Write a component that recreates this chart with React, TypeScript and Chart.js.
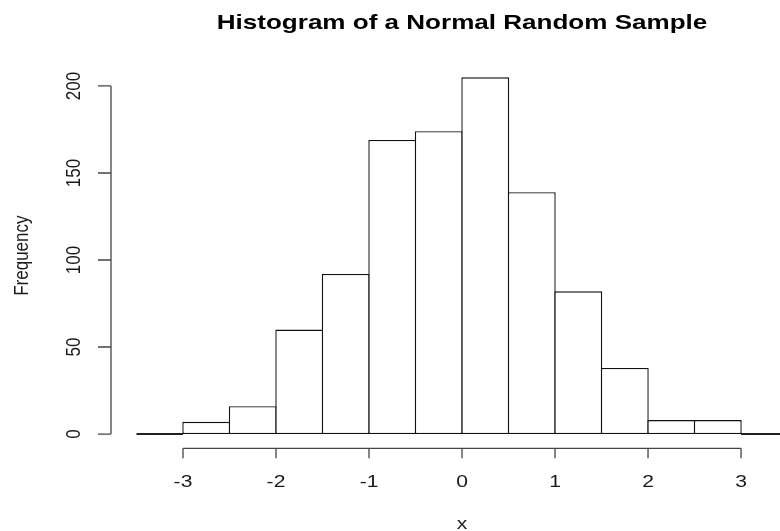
import React, { useEffect, useRef } from "react";
import { Chart, registerables } from "chart.js";

Chart.register(...registerables);

// ---- data ----
const binStarts = [-3, -2.5, -2, -1.5, -1, -0.5, 0, 0.5, 1, 1.5, 2, 2.5];
const binWidth = 0.5;
const counts = [7, 16, 60, 92, 169, 174, 205, 139, 82, 38, 8, 8];
const emptyBinStarts = [-3.5, 3];
const xTicks = [-3, -2, -1, 0, 1, 2, 3];
const yTicks = [0, 50, 100, 150, 200];
const titleText = "Histogram of a Normal Random Sample";
const xLabel = "x";
const yLabel = "Frequency";

const FONT = '"Liberation Sans", Arial, Helvetica, sans-serif';
const STRETCH = 1.24;

const rAxesPlugin = {
  id: "rAxes",
  afterDraw(chart: any) {
    const ctx: CanvasRenderingContext2D = chart.ctx;
    const xs = chart.scales.x;
    const ys = chart.scales.y;
    const ca = chart.chartArea;

    ctx.save();
    ctx.strokeStyle = "#444";
    ctx.lineWidth = 1.3;

    // y axis
    const ax = ca.left;
    ctx.beginPath();
    ctx.moveTo(ax, ys.getPixelForValue(yTicks[0]));
    ctx.lineTo(ax, ys.getPixelForValue(yTicks[yTicks.length - 1]));
    yTicks.forEach((v) => {
      const p = ys.getPixelForValue(v);
      ctx.moveTo(ax, p);
      ctx.lineTo(ax - 13, p);
    });
    ctx.stroke();

    // x axis
    const ay = ca.bottom;
    ctx.beginPath();
    ctx.moveTo(xs.getPixelForValue(xTicks[0]), ay);
    ctx.lineTo(xs.getPixelForValue(xTicks[xTicks.length - 1]), ay);
    xTicks.forEach((v) => {
      const p = xs.getPixelForValue(v);
      ctx.moveTo(p, ay);
      ctx.lineTo(p, ay + 10);
    });
    ctx.stroke();

    const text = (
      s: string,
      x: number,
      y: number,
      font: string,
      rotate: boolean
    ) => {
      ctx.save();
      ctx.translate(x, y);
      ctx.scale(STRETCH, 1);
      if (rotate) ctx.rotate(-Math.PI / 2);
      ctx.font = font;
      ctx.textAlign = "center";
      ctx.textBaseline = "alphabetic";
      ctx.fillText(s, 0, 0);
      ctx.restore();
    };

    ctx.fillStyle = "#1a1a1a";
    const regular = `17px ${FONT}`;
    yTicks.forEach((v) => {
      text(String(v), 80, ys.getPixelForValue(v), regular, true);
    });
    xTicks.forEach((v) => {
      text(String(v), xs.getPixelForValue(v), 487, regular, false);
    });
    const midX = xs.getPixelForValue(0);
    text(xLabel, midX, 529, regular, false);
    text(yLabel, 28, (ca.top + ca.bottom) / 2, regular, true);

    ctx.fillStyle = "#000";
    text(titleText, midX, 29, `bold 21px ${FONT}`, false);
    ctx.restore();
  },
};

export default function App() {
  const ref = useRef<HTMLCanvasElement | null>(null);

  useEffect(() => {
    if (!ref.current) return;
    const barData = binStarts.map((s, i) => ({ x: s + binWidth / 2, y: counts[i] }));
    const emptySets = emptyBinStarts.map((s) => ({
      type: "line" as const,
      data: [
        { x: s, y: 0 },
        { x: s + binWidth, y: 0 },
      ],
      borderColor: "#222",
      borderWidth: 2,
      pointRadius: 0,
      order: 2,
    }));
    const chart = new Chart(ref.current, {
      type: "bar",
      data: {
        datasets: [
          {
            type: "bar",
            data: barData as any,
            backgroundColor: "#ffffff",
            borderColor: "#111",
            borderWidth: 1.4,
            borderSkipped: false,
            inflateAmount: 0,
            barPercentage: 1,
            categoryPercentage: 1.03,
            order: 1,
          } as any,
          ...(emptySets as any[]),
        ],
      },
      options: {
        animation: false,
        responsive: false,
        devicePixelRatio: 1,
        events: [],
        layout: { padding: { left: 111, right: 0, top: 63, bottom: 82.7 } },
        plugins: {
          legend: { display: false },
          tooltip: { enabled: false },
          title: { display: false },
        },
        scales: {
          x: {
            type: "linear",
            display: false,
            offset: false,
            min: -3.774,
            max: 3.419,
            grid: { offset: false },
            ticks: { stepSize: 1, includeBounds: false },
          },
          y: {
            type: "linear",
            display: false,
            min: -8.2,
            max: 213.2,
          },
        },
      },
      plugins: [rAxesPlugin],
    });
    return () => chart.destroy();
  }, []);

  return (
    <div
      style={{
        position: "fixed",
        left: 0,
        top: 0,
        width: 780,
        height: 531,
        background: "#fff",
      }}
    >
      <canvas ref={ref} width={780} height={531} />
    </div>
  );
}
